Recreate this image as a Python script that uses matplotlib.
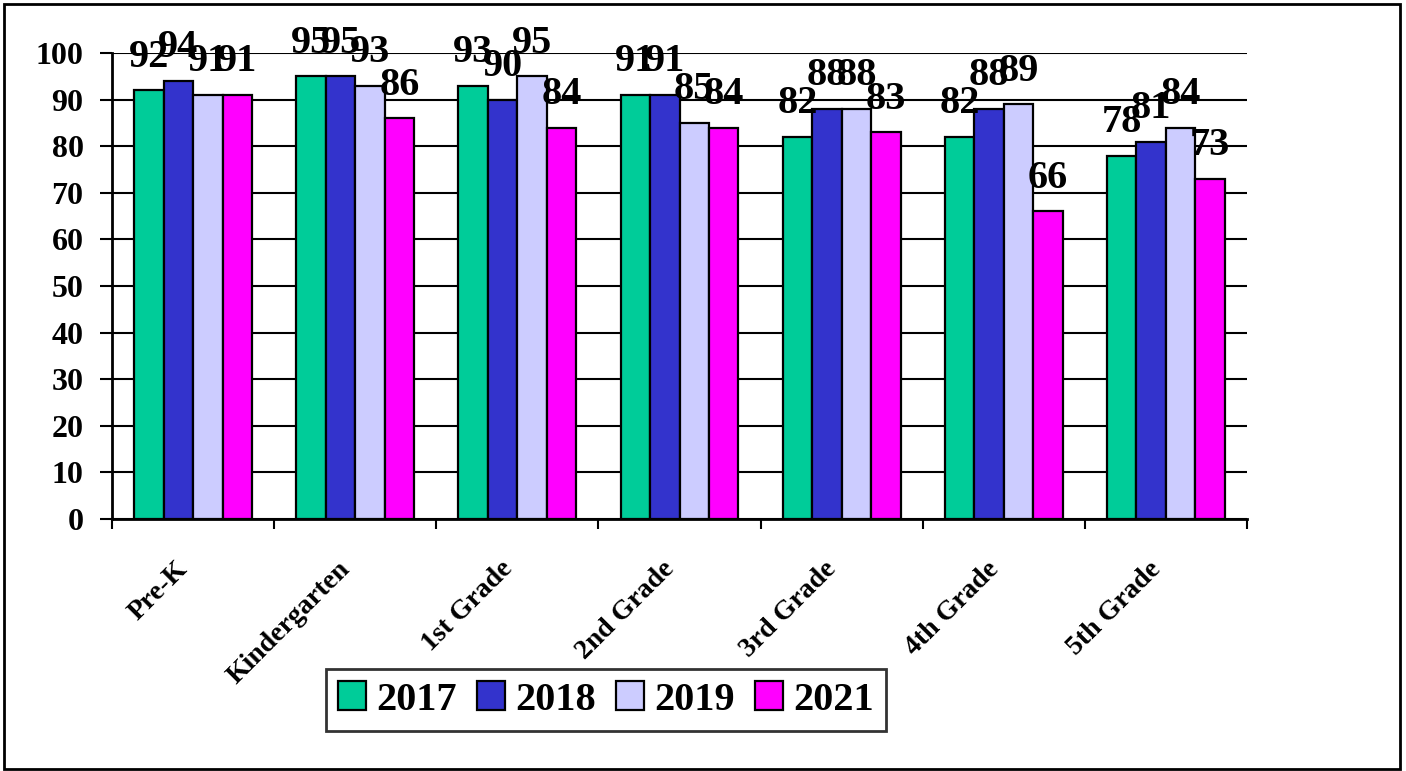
import matplotlib
matplotlib.use('Agg')
import matplotlib.pyplot as plt
import matplotlib.ticker as ticker
from matplotlib.patches import Rectangle
import numpy as np

# Chart data
grades = ["Pre-K", "Kindergarten", "1st Grade", "2nd Grade", "3rd Grade", "4th Grade", "5th Grade"]
years = ["2017", "2018", "2019", "2021"]
values_2017 = [92, 95, 93, 91, 82, 82, 78]
values_2018 = [94, 95, 90, 91, 88, 88, 81]
values_2019 = [91, 93, 95, 85, 88, 89, 84]
values_2021 = [91, 86, 84, 84, 83, 66, 73]
y_ticks = [0, 10, 20, 30, 40, 50, 60, 70, 80, 90, 100]

bar_colors = ["#00CC99", "#3333CC", "#CCCCFF", "#FF00FF"]


# Put the value above each bar
def label_bars(ax, x_values, y_values):
    for x, y in zip(x_values, y_values):
        ax.annotate(str(y), xy=(x, y), xytext=(0, 17), textcoords='offset points',
                    ha='center', va='baseline', fontsize=29, fontweight='bold',
                    annotation_clip=False)


def plot_bars():
    plt.rcParams['font.family'] = ['Liberation Serif', 'DejaVu Serif']
    plt.rcParams['font.weight'] = 'bold'

    fig = plt.figure(figsize=(14.06, 7.71), dpi=100)
    ax = fig.add_axes([0.0797, 0.3268, 0.8072, 0.6045])

    series = [values_2017, values_2018, values_2019, values_2021]
    x = np.arange(len(grades))
    bar_width = 1 / 5.5

    # Grid lines sit behind the bars
    ax.set_axisbelow(True)
    ax.yaxis.grid(True, color='black', linewidth=1.5)

    for i in range(len(series)):
        x_positions = x + (i - 1.5) * bar_width
        ax.bar(x_positions, series[i], width=bar_width, color=bar_colors[i],
               edgecolor='black', linewidth=1.6, label=years[i], zorder=2)
        label_bars(ax, x_positions, series[i])

    # Axes format
    ax.set_xlim(-0.5, len(grades) - 0.5)
    ax.set_ylim(0, 100)
    ax.set_yticks(y_ticks)
    ax.tick_params(axis='y', direction='out', length=8.5, width=1.5, pad=12, labelsize=23)

    # Category labels in the middle, ticks on the boundaries
    ax.set_xticks(x)
    ax.set_xticklabels(grades, rotation=45, ha='right', fontsize=20)
    ax.xaxis.set_minor_locator(ticker.FixedLocator(np.arange(len(grades) + 1) - 0.5))
    ax.tick_params(axis='x', which='major', length=0, pad=27)
    ax.tick_params(axis='x', which='minor', direction='out', length=7, width=1.5)

    ax.spines['top'].set_visible(False)
    ax.spines['right'].set_visible(False)
    ax.spines['left'].set_linewidth(2)
    ax.spines['bottom'].set_linewidth(2)

    # Legend in one row below the chart
    leg = fig.legend(loc='center', bbox_to_anchor=(0.431, 0.092), ncol=4, fontsize=29,
                     frameon=True, fancybox=False, edgecolor='black',
                     handlelength=0.7, handleheight=0.7, handletextpad=0.25,
                     columnspacing=0.5, borderpad=0.3, borderaxespad=0)
    leg.get_frame().set_linewidth(2)

    # Outer border of the chart area
    fig.patches.append(Rectangle((0.003, 0.002), 0.993, 0.993, transform=fig.transFigure,
                                 fill=False, edgecolor='black', linewidth=2))

    fig.savefig('out.png', dpi=100)


if __name__ == '__main__':
    plot_bars()
